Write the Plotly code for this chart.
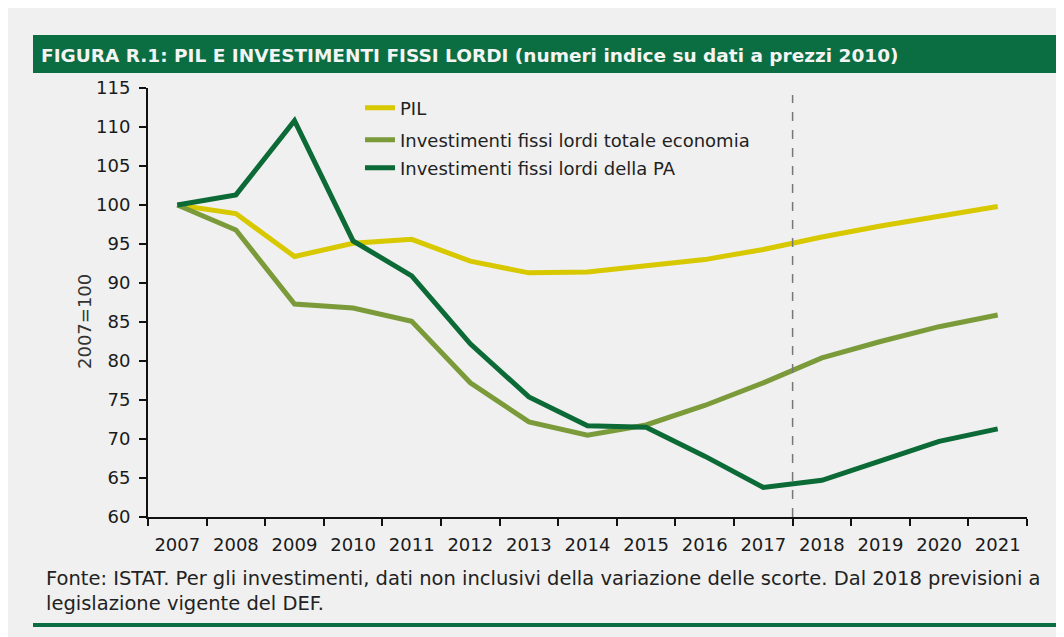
import plotly.graph_objects as go

anni = [str(a) for a in range(2007, 2022)]
pil = [100, 98.9, 93.4, 95.1, 95.6, 92.8, 91.3, 91.4, 92.2, 93.0, 94.3, 95.9, 97.3, 98.6, 99.8]
inv_tot = [100, 96.8, 87.3, 86.8, 85.1, 77.2, 72.2, 70.5, 71.8, 74.3, 77.2, 80.4, 82.5, 84.4, 85.9]
inv_pa = [100, 101.3, 110.8, 95.4, 90.9, 82.2, 75.4, 71.7, 71.5, 67.8, 63.8, 64.7, 67.2, 69.7, 71.3]
nomi = ["PIL", "Investimenti fissi lordi totale economia", "Investimenti fissi lordi della PA"]
colori = ["#d8c800", "#7b9b3b", "#0b6a36"]
y_ticks = list(range(60, 116, 5))

W, H = 1064, 637
OX, OY = 8, 8  # page body offset
L, R, T, B = 148 - OX, 1027 - OX, 88 - OY, 517 - OY

def px(x):
    return (x - OX - L) / (R - L)

def py(y):
    return (B - (y - OY)) / (B - T)

FONT = "DejaVu Sans, Verdana, sans-serif"

fig = go.Figure()
legends = ["legend2", "legend3", "legend4"]
for serie, nome, col, lg in zip([pil, inv_tot, inv_pa], nomi, colori, legends):
    fig.add_trace(go.Scatter(x=anni, y=serie, name=nome, mode="lines",
                             line=dict(color=col, width=5), legend=lg))

leg_font = dict(family=FONT, size=18, color="#222")
leg_common = dict(bgcolor="rgba(0,0,0,0)", font=leg_font, xanchor="left", yanchor="middle",
                  itemwidth=30)
leg_y = [108, 140, 168]
leg_x = 360

tick_font = dict(family=FONT, size=18, color="#1a1a1a")

fig.update_layout(
    width=W, height=H, showlegend=True,
    margin=dict(l=L, r=W - R, t=T, b=H - B),
    paper_bgcolor="#f0f0f0", plot_bgcolor="#f0f0f0",
    legend2=dict(x=px(leg_x), y=py(leg_y[0]), **leg_common),
    legend3=dict(x=px(leg_x), y=py(leg_y[1]), **leg_common),
    legend4=dict(x=px(leg_x), y=py(leg_y[2]), **leg_common),
    xaxis=dict(type="category", tickson="boundaries", range=[-0.5, 14.5],
               showline=True, linecolor="#111", linewidth=2,
               ticks="outside", ticklen=7, tickwidth=2, tickcolor="#111",
               ticklabelstandoff=10,
               tickfont=tick_font, showgrid=False, zeroline=False),
    yaxis=dict(range=[60, 115], tickvals=y_ticks,
               showline=True, linecolor="#111", linewidth=2,
               ticks="outside", ticklen=7, tickwidth=2, tickcolor="#111",
               ticklabelstandoff=5,
               tickfont=tick_font, showgrid=False, zeroline=False),
)

# forecast divider between 2017 and 2018
fig.add_shape(type="line", xref="x", yref="paper", x0=10.5, x1=10.5, y0=0, y1=py(95),
              line=dict(color="#777", width=1.5, dash="dash"))

# title banner
fig.add_shape(type="rect", xref="paper", yref="paper", x0=px(33), x1=px(1080),
              y0=py(73), y1=py(35), fillcolor="#0a6e42", line=dict(width=0), layer="below")
fig.add_annotation(xref="paper", yref="paper", x=px(39), y=py(55), xanchor="left", yanchor="middle",
                   text="<b>FIGURA R.1: PIL E INVESTIMENTI FISSI LORDI (numeri indice su dati a prezzi 2010)</b>",
                   showarrow=False,
                   font=dict(family=FONT, size=18.5, color="#f4f4f4"))

# y-axis title
fig.add_annotation(xref="paper", yref="paper", x=px(84), y=py(322), text="2007=100", textangle=-90,
                   showarrow=False, xanchor="center", yanchor="middle",
                   font=dict(family=FONT, size=18, color="#333"))

# footnote
fig.add_annotation(xref="paper", yref="paper", x=px(44), y=py(591), xanchor="left", yanchor="middle",
                   align="left", showarrow=False,
                   text="Fonte: ISTAT. Per gli investimenti, dati non inclusivi della variazione delle scorte. Dal 2018 previsioni a<br>legislazione vigente del DEF.",
                   font=dict(family=FONT, size=19.5, color="#222"))

# bottom green rule
fig.add_shape(type="line", xref="paper", yref="paper", x0=px(33), x1=px(1080), y0=py(625), y1=py(625),
              line=dict(color="#0a6e42", width=4))

fig.write_html("out.html")
